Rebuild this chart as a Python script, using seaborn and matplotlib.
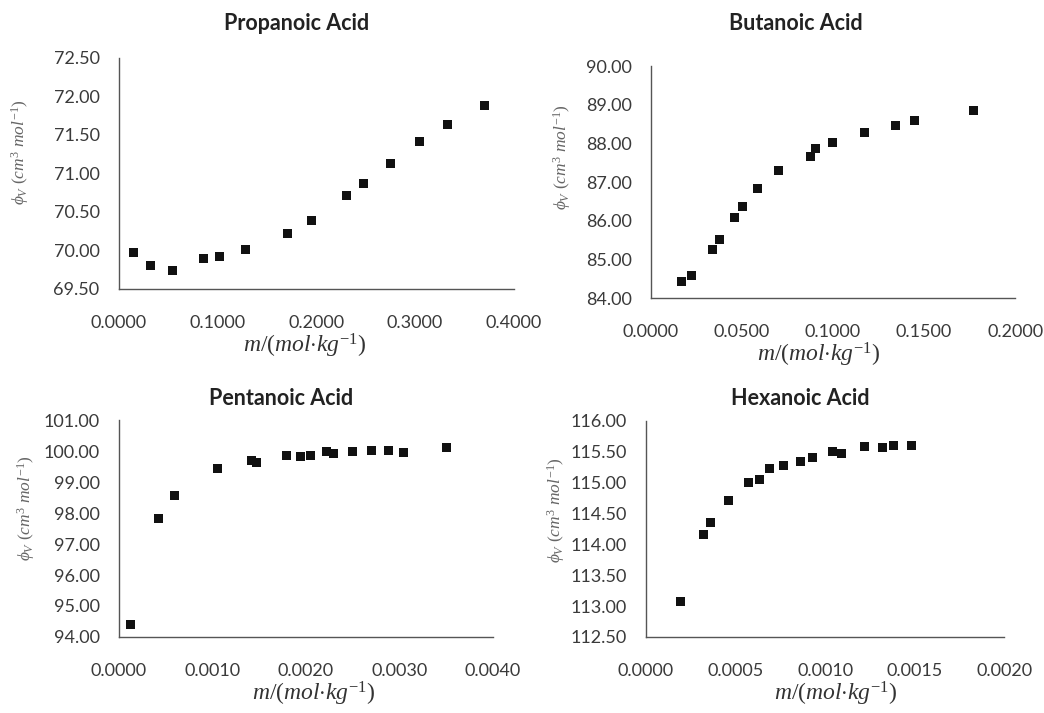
import numpy as np
import pandas as pd
import matplotlib
matplotlib.use("Agg")
import matplotlib.pyplot as plt
import seaborn as sns
from matplotlib.ticker import FormatStrFormatter, MultipleLocator

# data
propanoic_m = [0.0142, 0.0320, 0.0543, 0.0860, 0.1019, 0.1278, 0.1707, 0.1946,
               0.2310, 0.2480, 0.2750, 0.3046, 0.3330, 0.3700]
propanoic_phi = [69.98, 69.81, 69.74, 69.90, 69.92, 70.01, 70.22, 70.385,
                 70.71, 70.87, 71.13, 71.41, 71.64, 71.88]

butanoic_m = [0.0168, 0.0221, 0.0337, 0.0377, 0.0456, 0.0501, 0.0586, 0.0699,
              0.0875, 0.0904, 0.0999, 0.1173, 0.1345, 0.1449, 0.1771]
butanoic_phi = [84.44, 84.585, 85.26, 85.52, 86.07, 86.37, 86.82, 87.30,
                87.67, 87.86, 88.02, 88.29, 88.45, 88.58, 88.85]

pentanoic_m = [0.000128, 0.000417, 0.000591, 0.001054, 0.001421, 0.001471,
               0.001795, 0.001941, 0.002048, 0.002216, 0.002290, 0.002493,
               0.002703, 0.002885, 0.003045, 0.003498]
pentanoic_phi = [94.40, 97.82, 98.57, 99.45, 99.71, 99.63, 99.85, 99.83,
                 99.85, 99.97, 99.93, 99.97, 100.03, 100.03, 99.95, 100.11]

hexanoic_m = [0.000192, 0.000321, 0.000360, 0.000463, 0.000573, 0.000632,
              0.000688, 0.000769, 0.000862, 0.000931, 0.001043, 0.001093,
              0.001218, 0.001319, 0.001384, 0.001481]
hexanoic_phi = [113.08, 114.16, 114.36, 114.71, 115.00, 115.05, 115.23, 115.28,
                115.35, 115.40, 115.50, 115.48, 115.59, 115.57, 115.60, 115.60]

sns.set_style("white")
plt.rcParams["font.family"] = ["Lato", "DejaVu Sans"]
plt.rcParams["mathtext.fontset"] = "custom"
plt.rcParams["mathtext.rm"] = "Liberation Serif"
plt.rcParams["mathtext.it"] = "Liberation Serif:italic"

fig = plt.figure(figsize=(10.44, 7.13), dpi=100)

# title, x, y, axes rect, xlim, xstep, ylim, ystep, minor step, title pos, xlabel pos, ylabel pos
panels = [
    ("Propanoic Acid", propanoic_m, propanoic_phi, [0.114, 0.5947, 0.378, 0.324],
     (0, 0.4), 0.1, (69.5, 72.5), 0.5, None,
     (297, 23), (0.47, -0.245), (-0.25, 0.593)),
    ("Butanoic Acid", butanoic_m, butanoic_phi, [0.6236, 0.582, 0.3487, 0.3254],
     (0, 0.2), 0.05, (84, 90), 1.0, None,
     (796, 23), (0.46, -0.244), (-0.245, 0.608)),
    ("Pentanoic Acid", pentanoic_m, pentanoic_phi, [0.114, 0.1066, 0.3582, 0.3043],
     (0, 0.004), 0.001, (94, 101), 1.0, None,
     (281, 399), (0.52, -0.262), (-0.248, 0.594)),
    ("Hexanoic Acid", hexanoic_m, hexanoic_phi, [0.6188, 0.1066, 0.343, 0.303],
     (0, 0.002), 0.0005, (112.5, 116), 0.5, 0.0001,
     (800, 399), (0.53, -0.262), (-0.25, 0.59)),
]

axis_color = "#555555"
text_color = "#3a3a3a"
W, H = 1044, 713

for (title, m, phi, rect, xlim, xstep, ylim, ystep, xminor,
     tpos, xlpos, ylpos) in panels:
    ax = fig.add_axes(rect)
    df = pd.DataFrame({"m": m, "phi": phi})
    sns.scatterplot(data=df, x="m", y="phi", ax=ax, marker="s", s=42,
                    color="#111111", edgecolor="none", linewidth=0)
    ax.set_xlim(*xlim)
    ax.set_ylim(*ylim)
    ax.xaxis.set_major_locator(MultipleLocator(xstep))
    ax.yaxis.set_major_locator(MultipleLocator(ystep))
    ax.xaxis.set_major_formatter(FormatStrFormatter("%.4f"))
    ax.yaxis.set_major_formatter(FormatStrFormatter("%.2f"))
    if xminor:
        ax.xaxis.set_minor_locator(MultipleLocator(xminor))
        ax.tick_params(axis="x", which="minor", direction="in", length=3,
                       width=1, color=axis_color)
    for side in ["top", "right"]:
        ax.spines[side].set_visible(False)
    for side in ["left", "bottom"]:
        ax.spines[side].set_color(axis_color)
        ax.spines[side].set_linewidth(1.0)
    ax.tick_params(axis="x", which="major", direction="inout", length=7,
                   width=1, color=axis_color, labelsize=13, labelcolor=text_color,
                   pad=15)
    ax.tick_params(axis="y", which="major", direction="out", length=3,
                   width=1, color=axis_color, labelsize=13, labelcolor=text_color,
                   pad=11)
    fig.text(tpos[0] / W, 1 - tpos[1] / H, title, fontsize=15.5, fontweight="bold",
             color="#222222", ha="center", va="center")
    ax.set_xlabel(r"$m/(mol{\cdot}kg^{-1})$", fontsize=17, color="#333333",
                  va="center")
    ax.xaxis.set_label_coords(*xlpos)
    ax.set_ylabel(r"$\phi_V\ (cm^3\ mol^{-1})$", fontsize=12.5, color="#666666",
                  va="center")
    ax.yaxis.set_label_coords(*ylpos)

fig.savefig("out.png", dpi=100)
